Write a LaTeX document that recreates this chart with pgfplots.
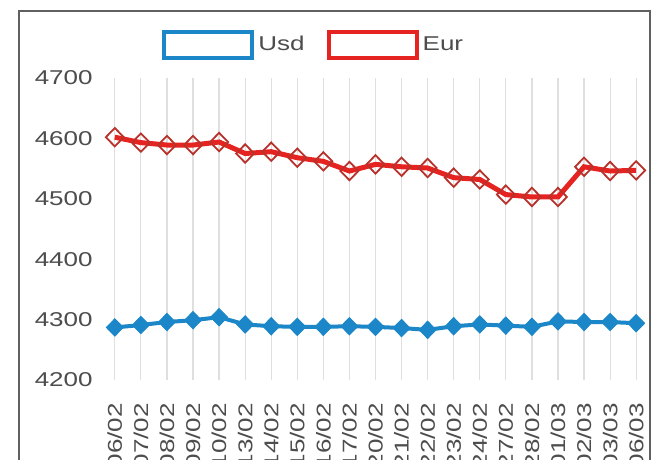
\documentclass[border=0pt]{standalone}
\usepackage{fontspec}
\setmainfont{Liberation Sans}
\newfontfamily\widefont{Liberation Sans}[FakeStretch=1.3]
\usepackage{pgfplots}
\pgfplotsset{compat=1.18}
\definecolor{usdblue}{HTML}{1B87C9}
\definecolor{eurred}{HTML}{E52421}
\definecolor{eurmark}{HTML}{B8322C}
\definecolor{txt}{HTML}{4D4D4D}
\begin{document}
\begin{tikzpicture}[x=1pt,y=1pt]
\useasboundingbox (0,0) rectangle (330.5,230);
\clip (0,0) rectangle (330.5,230);
\fill[white] (0,0) rectangle (330.5,230);
\draw[gray!75!black, line width=0.7pt] (9.5,-10) rectangle (325,224.5);
\begin{axis}[
  at={(53.5pt,40pt)}, anchor=south west,
  scale only axis, width=268.5pt, height=151pt,
  xmin=-0.3, xmax=20.3, ymin=4200, ymax=4700,
  axis line style={draw=none},
  tick style={draw=none},
  clip=false,
  xtick={0,...,20},
  xticklabels={06/02,07/02,08/02,09/02,10/02,13/02,14/02,15/02,16/02,17/02,20/02,21/02,22/02,23/02,24/02,27/02,28/02,01/03,02/03,03/03,06/03},
  xticklabel style={rotate=90, anchor=east, inner sep=0pt, font=\widefont\fontsize{10}{12}\selectfont, text=txt},
  xticklabel shift=11.5pt,
  ytick={4200,4300,4400,4500,4600,4700},
  yticklabel style={font=\widefont\fontsize{10}{12}\selectfont, text=txt, inner sep=0pt},
  yticklabel shift=7pt,
  /pgf/number format/assume math mode=true,
  /pgf/number format/1000 sep={},
  xmajorgrids, grid style={gray!25, line width=0.6pt},
  legend columns=2,
  legend style={draw=none, fill=none, at={(0.387,1.109)}, anchor=center,
    font=\widefont\fontsize{10}{12}\selectfont, text=txt,
    /tikz/every even column/.append style={column sep=9pt}},
  legend image code/.code={\draw[line width=2pt, fill=white, solid] (0pt,-6.5pt) rectangle (44pt,6.5pt);},
]
\addplot[color=usdblue, line width=2pt, mark=diamond*, mark size=4.3pt, mark options={fill=usdblue, draw=usdblue, line width=0.5pt, xscale=1.3}]
coordinates {(0,4287)(1,4291)(2,4296)(3,4299)(4,4304)(5,4292)(6,4289)(7,4288)(8,4288)(9,4289)(10,4288)(11,4286)(12,4283)(13,4289)(14,4292)(15,4290)(16,4288)(17,4297)(18,4296)(19,4296)(20,4294)};
\addlegendentry{Usd}
\addplot[color=eurred, line width=2.5pt, mark=diamond, mark size=4.6pt, mark options={draw=eurmark, fill=none, line width=0.9pt, xscale=1.3}]
coordinates {(0,4602)(1,4593)(2,4589)(3,4589)(4,4594)(5,4575)(6,4578)(7,4568)(8,4562)(9,4546)(10,4557)(11,4553)(12,4551)(13,4535)(14,4532)(15,4507)(16,4503)(17,4503)(18,4553)(19,4546)(20,4547)};
\addlegendentry{Eur}
\end{axis}
\end{tikzpicture}
\end{document}
